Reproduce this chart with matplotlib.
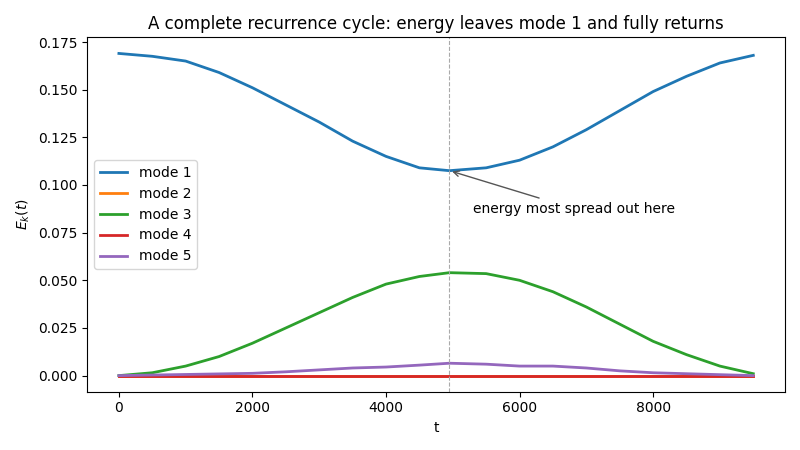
import matplotlib
matplotlib.use("Agg")
import matplotlib.pyplot as plt

t = [0, 500, 1000, 1500, 2000, 2500, 3000, 3500, 4000, 4500, 4950, 5500, 6000, 6500, 7000, 7500, 8000, 8500, 9000, 9500]
mode1 = [0.169, 0.1675, 0.165, 0.159, 0.151, 0.142, 0.133, 0.123, 0.115, 0.109, 0.1075, 0.109, 0.113, 0.120, 0.129, 0.139, 0.149, 0.157, 0.164, 0.168]
mode2 = [0.0]*20
mode3 = [0.0, 0.0015, 0.005, 0.010, 0.017, 0.025, 0.033, 0.041, 0.048, 0.052, 0.054, 0.0535, 0.050, 0.044, 0.036, 0.027, 0.018, 0.011, 0.005, 0.001]
mode4 = [0.0]*20
mode5 = [0.0, 0.0003, 0.0006, 0.0009, 0.0012, 0.002, 0.003, 0.004, 0.0045, 0.0055, 0.0065, 0.006, 0.005, 0.005, 0.004, 0.0025, 0.0015, 0.001, 0.0005, 0.0]
series = [mode1, mode2, mode3, mode4, mode5]
labels = ["mode 1", "mode 2", "mode 3", "mode 4", "mode 5"]
t_peak = 4950

fig, ax = plt.subplots(figsize=(8, 4.5), dpi=100)
for s, l in zip(series, labels):
    ax.plot(t, s, label=l, lw=2)
ax.axvline(t_peak, color="#aaaaaa", ls="--", lw=0.8)
ax.annotate("energy most spread out here", xy=(t_peak, 0.1075), xytext=(5300, 0.0855),
            arrowprops=dict(arrowstyle="->", color="#555555"), fontsize=10)
ax.set_title("A complete recurrence cycle: energy leaves mode 1 and fully returns")
ax.set_xlabel("t")
ax.set_ylabel("$E_k(t)$")
ax.legend(loc="center left")
fig.tight_layout()
fig.savefig("out.png")
